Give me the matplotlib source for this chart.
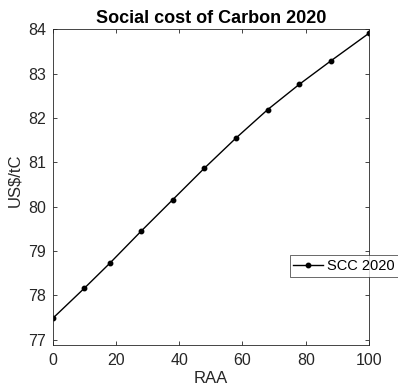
import matplotlib
matplotlib.use("Agg")
import matplotlib.pyplot as plt

raa = [0, 10, 18, 28, 38, 48, 58, 68, 78, 88, 100]
scc = [77.48, 78.16, 78.72, 79.45, 80.16, 80.87, 81.55, 82.19, 82.76, 83.29, 83.91]
xticks = [0, 20, 40, 60, 80, 100]
yticks = [77, 78, 79, 80, 81, 82, 83, 84]

plt.rcParams['font.family'] = ['Liberation Sans', 'DejaVu Sans']

fig = plt.figure(figsize=(3.98, 3.89), dpi=100)
ax = fig.add_axes([0.1324, 0.1131, 0.927 - 0.1324, 0.9247 - 0.1131])
line, = ax.plot(raa, scc, color='black', lw=1.0, marker='o', markersize=3.2, label='SCC 2020')
ax.set_xlim(0, 100)
ax.set_ylim(76.88, 84)
ax.set_xticks(xticks)
ax.set_yticks(yticks)
ax.tick_params(direction='in', top=True, right=True, labelsize=11.5, length=3, width=0.6,
               color='#262626', labelcolor='#262626')
ax.tick_params(axis='x', pad=5.8)
ax.tick_params(axis='y', pad=4.8)
for s in ax.spines.values():
    s.set_linewidth(0.6)
    s.set_color('#262626')
ax.set_title('Social cost of Carbon 2020', fontsize=13, fontweight='bold', pad=4.8)
ax.set_xlabel('RAA', fontsize=12, color='#262626', labelpad=2)
ax.set_ylabel('US$/tC', fontsize=12, color='#262626')
ax.yaxis.set_label_coords(-0.119, 0.523)
ax.yaxis.label.set_va('center')

leg = fig.legend(handles=[line], loc='center', bbox_to_anchor=(344/398, 1 - 266/389),
                 fontsize=10.5, frameon=True, fancybox=False, edgecolor='#262626',
                 handlelength=2.0, handletextpad=0.3, borderpad=0.25, borderaxespad=0)
leg.get_frame().set_linewidth(0.6)

fig.savefig('out.png', dpi=100)
